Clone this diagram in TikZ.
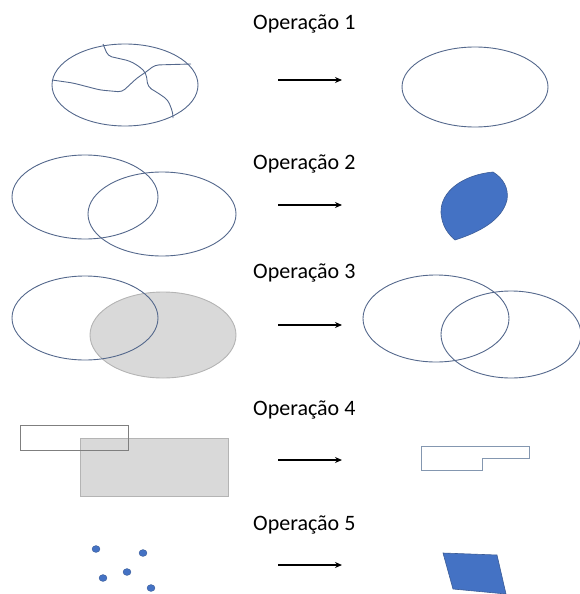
\documentclass[tikz,border=0pt]{standalone}
\usepackage{fontspec}
\setmainfont{Carlito}
\usetikzlibrary{arrows.meta}
\definecolor{outl}{RGB}{84,104,140}
\definecolor{blu}{RGB}{68,114,196}
\definecolor{bluedge}{RGB}{60,92,150}
\definecolor{gfill}{RGB}{217,217,217}
\definecolor{gedge}{RGB}{180,180,180}
\definecolor{rgray}{RGB}{127,127,127}
\definecolor{polyedge}{RGB}{132,151,176}
\tikzset{
  ttl/.style={anchor=base west, inner sep=0pt, font=\fontsize{22}{26}\selectfont},
  ell/.style={draw=outl, line width=0.9pt},
  arr/.style={-{Stealth[length=7pt,width=6pt]}, line width=1.3pt, black},
  crack/.style={draw=outl, line width=0.9pt, rounded corners=4pt},
  blob/.style={fill=blu, draw=bluedge, line width=0.6pt},
  dot/.style={fill=blu, draw=bluedge, line width=0.4pt},
}
\begin{document}
\begin{tikzpicture}[x=1pt,y=-1pt]
\useasboundingbox (0,0) rectangle (579,594);
% titles
\node[ttl] (t1) at (253,30) {Operação 1};
\node[ttl] (t2) at (253,169) {Operação 2};
\node[ttl] (t3) at (253,278) {Operação 3};
\node[ttl] (t4) at (253,415) {Operação 4};
\node[ttl] (t5) at (253,530) {Operação 5};
% arrows
\coordinate (a1s) at (278,80); \coordinate (a1e) at (342,80);
\coordinate (a2s) at (278,205); \coordinate (a2e) at (342,205);
\coordinate (a3s) at (278,325); \coordinate (a3e) at (342,325);
\coordinate (a4s) at (278,460); \coordinate (a4e) at (342,460);
\coordinate (a5s) at (278,565); \coordinate (a5e) at (342,565);
\draw[arr] (a1s) -- (a1e);
\draw[arr] (a2s) -- (a2e);
\draw[arr] (a3s) -- (a3e);
\draw[arr] (a4s) -- (a4e);
\draw[arr] (a5s) -- (a5e);
% Operation 1
\draw[ell] (125,85) ellipse [x radius=73, y radius=41];
\draw[crack] (103,44) -- (108,56) -- (130,61) -- (140,67) -- (146,73) -- (148,87) -- (158,93) -- (168,100) -- (173,113) -- (173,118);
\draw[crack] (52,80) -- (73,83) -- (100,90) -- (122,92) -- (137,78) -- (146,72) -- (155,65) -- (191,64);
\draw[ell] (475,87) ellipse [x radius=73, y radius=40];
% Operation 2
\draw[ell] (85,197) ellipse [x radius=73, y radius=42];
\draw[ell] (162,214) ellipse [x radius=74, y radius=42];
\draw[blob] (493,172) .. controls (462,175) and (440,192) .. (441,213)
  .. controls (442,226) and (448,234) .. (455,240)
  .. controls (480,232) and (502,220) .. (507,200)
  .. controls (509,188) and (503,178) .. (493,172) -- cycle;
% Operation 3
\draw[fill=gfill, draw=gedge, line width=0.9pt] (163,335) ellipse [x radius=73, y radius=43];
\draw[ell] (85,318) ellipse [x radius=73, y radius=42];
\draw[ell] (436,318.5) ellipse [x radius=73, y radius=43.5];
\draw[ell] (511,334.5) ellipse [x radius=70, y radius=43.5];
% Operation 4
\draw[fill=gfill, draw=gedge, line width=0.9pt] (80,438) rectangle (228,496);
\draw[draw=rgray, line width=1pt] (20,425) rectangle (128,450);
\draw[draw=polyedge, line width=1pt] (421,446) -- (529,446) -- (529,458) -- (482,458) -- (482,470) -- (421,470) -- cycle;
% Operation 5
\foreach \p/\q in {96/549, 143/553, 103/578, 127/572, 151/588}
  \draw[dot] (\p,\q) ellipse [x radius=4, y radius=3.4];
\draw[blob] (443,553) -- (497,555) -- (506,594) -- (453,589) -- cycle;
\end{tikzpicture}
\end{document}
